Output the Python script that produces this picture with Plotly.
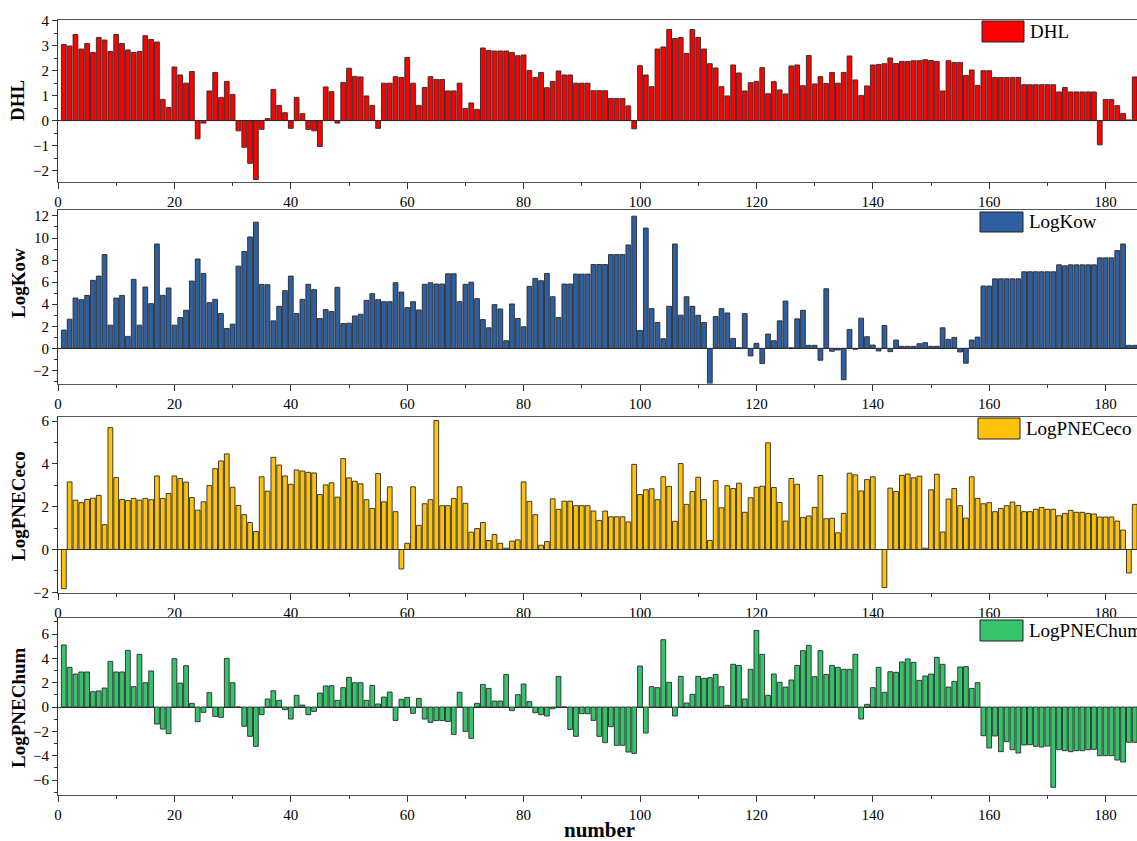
import plotly.graph_objects as go

numbers = list(range(1, 186))

DHL = [3.05, 2.99, 3.45, 2.87, 3.09, 2.73, 3.33, 3.23, 2.77, 3.45,
       3.09, 2.83, 2.73, 2.77, 3.4, 3.25, 3.15, 0.85, 0.53, 2.15,
       1.83, 1.5, 1.97, -0.73, -0.1, 1.19, 1.93, 0.93, 1.57, 1.05,
       -0.41, -1.07, -1.71, -2.36, -0.35, 0.08, 1.25, 0.61, 0.32, -0.31,
       0.93, 0.28, -0.35, -0.41, -1.04, 1.35, 1.16, -0.1, 1.53, 2.1,
       1.77, 1.75, 0.99, 0.61, -0.31, 1.5, 1.5, 1.76, 1.73, 2.53,
       1.5, 0.61, 1.33, 1.76, 1.65, 1.65, 1.19, 1.19, 1.5, 0.49,
       0.71, 0.45, 2.91, 2.81, 2.79, 2.79, 2.79, 2.73, 2.6, 2.63,
       2.01, 1.73, 1.93, 1.32, 1.57, 1.99, 1.83, 1.83, 1.5, 1.5,
       1.5, 1.2, 1.2, 1.2, 0.89, 0.89, 0.89, 0.59, -0.33, 2.2,
       1.83, 1.36, 2.87, 2.95, 3.65, 3.29, 3.33, 2.69, 3.65, 3.33,
       2.87, 2.28, 2.11, 1.36, 0.99, 2.23, 1.91, 1.19, 1.52, 1.57,
       2.12, 1.08, 1.56, 1.23, 1.07, 2.19, 2.23, 1.4, 2.61, 1.47,
       1.76, 1.49, 1.93, 1.5, 1.93, 2.59, 1.63, 1.01, 1.39, 2.23,
       2.25, 2.28, 2.51, 2.29, 2.37, 2.37, 2.4, 2.4, 2.44, 2.41,
       2.37, 1.19, 2.4, 2.33, 2.33, 1.81, 2.03, 1.41, 2.0, 2.0,
       1.73, 1.73, 1.73, 1.73, 1.73, 1.44, 1.44, 1.44, 1.44, 1.44,
       1.44, 1.15, 1.33, 1.15, 1.15, 1.15, 1.15, 1.15, -0.97, 0.85,
       0.85, 0.6, 0.29, 0.03, 1.75]

LogKow = [1.65, 2.64, 4.56, 4.41, 4.8, 6.16, 6.55, 8.5, 2.1, 4.56,
          4.8, 1.08, 6.25, 2.1, 5.56, 4.05, 9.46, 4.8, 5.47, 2.1,
          2.79, 3.45, 6.1, 8.1, 6.79, 4.14, 4.44, 3.15, 1.8, 2.19,
          7.45, 8.77, 10.1, 11.44, 5.8, 5.77, 2.49, 3.81, 5.23, 6.55,
          3.15, 4.44, 5.8, 5.32, 2.7, 3.51, 3.33, 5.53, 2.25, 2.28,
          2.94, 3.09, 4.35, 4.95, 4.41, 4.23, 4.23, 5.95, 5.1, 3.69,
          4.23, 3.48, 5.8, 5.95, 5.83, 5.83, 6.76, 6.76, 4.23, 5.8,
          6.0, 4.5, 2.61, 1.86, 3.96, 3.57, 0.69, 4.02, 2.7, 1.95,
          5.62, 6.34, 6.13, 6.79, 4.68, 2.79, 5.83, 5.83, 6.73, 6.73,
          6.73, 7.6, 7.6, 7.6, 8.5, 8.5, 8.5, 9.37, 11.98, 1.62,
          10.9, 3.6, 2.34, 0.87, 3.81, 9.46, 3.0, 4.68, 3.81, 3.0,
          2.34, -3.21, 2.88, 3.6, 3.21, 0.9, 0.06, 3.15, -0.69, 0.45,
          -1.38, 1.29, 0.69, 2.49, 4.29, 0.05, 2.67, 3.45, 0.27, 0.27,
          -1.08, 5.4, -0.27, -0.15, -2.85, 1.71, -0.09, 2.73, 1.05, 0.3,
          -0.24, 2.07, -0.3, 0.75, 0.18, 0.18, 0.18, 0.42, 0.51, 0.18,
          0.18, 1.86, 0.81, 0.99, -0.33, -1.35, 0.75, 1.02, 5.65, 5.65,
          6.3, 6.3, 6.3, 6.3, 6.3, 6.94, 6.94, 6.94, 6.94, 6.94,
          6.94, 7.57, 7.48, 7.57, 7.57, 7.57, 7.57, 7.57, 8.2, 8.2,
          8.2, 8.86, 9.46, 0.27, 0.27]

LogPNECeco = [-1.83, 3.16, 2.31, 2.19, 2.34, 2.4, 2.53, 1.16, 5.7, 3.36,
              2.34, 2.29, 2.39, 2.31, 2.39, 2.33, 3.44, 2.39, 2.62, 3.44,
              3.32, 3.15, 2.43, 1.84, 2.23, 2.99, 3.78, 4.14, 4.47, 2.91,
              2.06, 1.63, 1.26, 0.84, 3.4, 2.73, 4.31, 3.95, 3.44, 3.05,
              3.72, 3.67, 3.61, 3.58, 2.57, 3.02, 3.12, 2.45, 4.25, 3.35,
              3.19, 3.07, 2.33, 1.92, 3.55, 2.23, 2.93, 1.77, -0.91, 0.29,
              2.93, 1.13, 2.14, 2.33, 6.03, 2.05, 2.05, 2.39, 2.93, 2.16,
              0.81, 0.98, 1.26, 0.42, 0.7, 0.29, 0.06, 0.39, 0.45, 3.16,
              2.25, 1.63, 0.2, 0.37, 2.37, 1.88, 2.26, 2.26, 2.05, 2.05,
              2.05, 1.8, 1.36, 1.8, 1.53, 1.53, 1.53, 1.29, 3.98, 2.57,
              2.79, 2.84, 2.33, 3.4, 2.95, 1.32, 4.02, 2.11, 2.71, 3.38,
              2.33, 0.42, 3.22, 1.95, 2.98, 2.85, 3.1, 1.74, 2.42, 2.91,
              2.96, 4.99, 2.9, 2.2, 1.33, 3.32, 3.05, 1.5, 1.57, 1.97,
              3.46, 1.44, 1.46, 0.78, 1.69, 3.57, 3.49, 2.74, 3.27, 3.4,
              0.0, -1.78, 2.87, 2.71, 3.47, 3.53, 3.35, 3.43, 0.06, 2.79,
              3.52, 0.82, 2.36, 2.85, 2.05, 1.47, 3.4, 2.39, 2.14, 2.19,
              1.77, 1.92, 2.05, 2.22, 2.06, 1.77, 1.77, 1.88, 1.97, 1.88,
              1.88, 1.58, 1.69, 1.83, 1.74, 1.74, 1.69, 1.66, 1.52, 1.52,
              1.52, 1.33, 0.91, -1.1, 2.11]

LogPNEChum = [5.1, 3.26, 2.71, 2.88, 2.88, 1.26, 1.32, 1.56, 3.75, 2.88,
              2.88, 4.66, 1.67, 4.33, 2.0, 2.96, -1.4, -1.81, -2.19, 3.97,
              1.97, 3.4, 0.3, -1.21, -0.44, 1.18, -0.77, -0.85, 4.0, 2.0,
              0.0, -1.59, -2.41, -3.23, -0.63, 0.66, 1.34, 0.55, -0.22, -0.99,
              0.96, 0.16, -0.63, -0.36, 1.15, 1.73, 1.75, 0.55, 1.59, 2.44,
              2.0, 2.0, 0.55, 1.78, 0.25, 0.82, 1.23, -1.1, 0.63, 0.79,
              -0.52, 0.71, -0.99, -1.26, -1.12, -1.12, -1.18, -2.25, 1.21, -2.0,
              -2.58, 0.3, 1.86, 1.53, 0.49, 0.49, 2.68, -0.3, 1.01, 1.89,
              0.44, -0.47, -0.63, -0.74, -0.14, 2.52, 0.0, -1.84, -2.41, -0.55,
              -0.55, -1.1, -2.41, -2.93, -1.62, -3.15, -3.15, -3.7, -3.81, 3.37,
              -2.14, 1.67, 1.59, 5.53, 2.03, -0.74, 2.52, 0.33, 1.04, 2.52,
              2.36, 2.41, 2.68, 1.67, 0.14, 3.51, 3.42, 0.66, 3.1, 6.3,
              4.33, 0.96, 2.71, 2.03, 1.64, 2.22, 3.42, 4.63, 5.07, 2.49,
              4.63, 2.68, 3.42, 3.26, 3.1, 3.1, 4.33, -0.99, 0.22, 1.59,
              3.26, 1.21, 2.9, 2.85, 3.7, 3.95, 3.67, 2.19, 2.55, 2.71,
              4.08, 3.51, 1.64, 2.11, 3.29, 3.32, 1.53, 2.0, -2.36, -3.37,
              -2.38, -3.67, -2.85, -3.51, -3.78, -3.12, -3.1, -3.23, -3.29, -3.21,
              -6.6, -3.51, -3.59, -3.67, -3.59, -3.59, -3.51, -3.48, -4.0, -4.0,
              -4.0, -4.36, -4.52, -2.9, -2.9]

series_names = ["DHL", "LogKow", "LogPNECeco", "LogPNEChum"]
series_values = [DHL, LogKow, LogPNECeco, LogPNEChum]
series_colors = ["#FF0000", "#2E5FA0", "#FFC20A", "#35C46B"]
x_ticks = [0, 20, 40, 60, 80, 100, 120, 140, 160, 180]

W, H = 1137, 841
ML, MR, MT, MB = 58, 0, 20, 46
PW = W - ML - MR
PH = H - MT - MB

def px_x(p):
    return (p - ML) / PW

def px_y(p):
    return (H - MB - p) / PH

# panel pixel extents (top, bottom), y ranges, y tick steps
panel_px = [(20, 182.3), (210, 383.5), (416.7, 592.5), (618.3, 795)]
y_ranges = [[-2.47, 4.03], [-3.19, 12.54], [-2.01, 6.21], [-7.23, 7.29]]
y_dticks = [1, 2, 2, 2]
legend_px = [(982, 1024, 21, 42), (980, 1023, 212, 232), (978, 1020, 418, 439), (980, 1023, 620, 641)]
title_y_px = [101, 283, 506, 708]

FONT = "Liberation Serif, Times New Roman, serif"
fig = go.Figure()
shapes = []
annotations = []
for i, (name, vals, col) in enumerate(zip(series_names, series_values, series_colors)):
    n = i + 1
    xa = "x" if n == 1 else f"x{n}"
    ya = "y" if n == 1 else f"y{n}"
    fig.add_trace(go.Bar(x=numbers, y=vals, name=name, xaxis=xa, yaxis=ya,
                         width=0.82, marker=dict(color=col, line=dict(color="#2a2a2a", width=0.9)),
                         showlegend=False))
    top, bot = panel_px[i]
    xkey = "xaxis" if n == 1 else f"xaxis{n}"
    ykey = "yaxis" if n == 1 else f"yaxis{n}"
    fig.layout[xkey] = dict(domain=[0, 1], anchor=ya, range=[0, (W - ML) / 5.82],
                            tickmode="array", tickvals=x_ticks, ticks="outside", ticklen=6,
                            tickcolor="#333", showline=True, linecolor="#555", linewidth=1.2,
                            mirror=True, showgrid=False, zeroline=False,
                            minor=dict(dtick=10, tick0=0, ticks="outside", ticklen=3, tickcolor="#333"),
                            tickfont=dict(family=FONT, size=15, color="black"))
    fig.layout[ykey] = dict(domain=[px_y(bot), px_y(top)], anchor=xa, range=y_ranges[i],
                            dtick=y_dticks[i], tick0=0, ticks="outside", ticklen=5, tickcolor="#333",
                            showline=True, linecolor="#333", linewidth=1.2, showgrid=False,
                            zeroline=True, zerolinecolor="#333", zerolinewidth=1,
                            minor=dict(dtick=y_dticks[i] / 2, ticks="outside", ticklen=3, tickcolor="#333"),
                            tickfont=dict(family=FONT, size=15, color="black"))
    x0, x1, y0, y1 = legend_px[i]
    shapes.append(dict(type="rect", xref="paper", yref="paper",
                       x0=px_x(x0), x1=px_x(x1), y0=px_y(y1), y1=px_y(y0),
                       fillcolor=col, line=dict(color="#222", width=1)))
    annotations.append(dict(text=name, xref="paper", yref="paper", x=px_x(x1 + 4),
                            y=px_y((y0 + y1) / 2), xanchor="left", yanchor="middle",
                            showarrow=False, font=dict(family=FONT, size=19, color="black")))
    annotations.append(dict(text=f"<b>{name}</b>", xref="paper", yref="paper", x=px_x(18),
                            y=px_y(title_y_px[i]), xanchor="center", yanchor="middle",
                            textangle=-90, showarrow=False,
                            font=dict(family=FONT, size=19, color="black")))

annotations.append(dict(text="<b>number</b>", xref="paper", yref="paper", x=px_x(599),
                        y=px_y(830), xanchor="center", yanchor="middle", showarrow=False,
                        font=dict(family=FONT, size=21, color="black")))

fig.update_layout(width=W, height=H, margin=dict(l=ML, r=MR, t=MT, b=MB),
                  plot_bgcolor="white", paper_bgcolor="white", bargap=0.18,
                  shapes=shapes, annotations=annotations, showlegend=False,
                  font=dict(family=FONT, color="black"))

fig.write_html("out.html")
